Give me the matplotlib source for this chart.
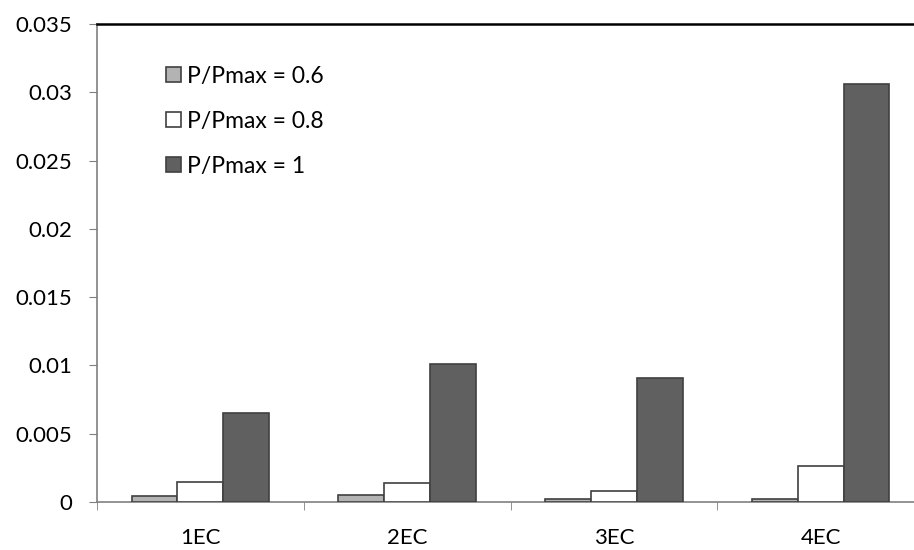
import numpy as np
import matplotlib.pyplot as plt

plt.rcParams['font.family'] = ['Lato', 'DejaVu Sans']

categories = ['1EC', '2EC', '3EC', '4EC']
series_labels = ['P/Pmax = 0.6', 'P/Pmax = 0.8', 'P/Pmax = 1']
p06 = [0.00046, 0.00053, 0.00024, 0.00024]
p08 = [0.00144, 0.00139, 0.00080, 0.00264]
p10 = [0.0065, 0.0101, 0.0091, 0.0306]
colors = ['#b3b3b3', '#ffffff', '#606060']

fig = plt.figure(figsize=(9.14, 5.5), dpi=100)
# plot area runs slightly past the right edge of the picture
ax = fig.add_axes([97 / 914, 48 / 550, 827 / 914, 478 / 550])

x = np.arange(len(categories))
w = 0.222
for i, (vals, lab, col) in enumerate(zip([p06, p08, p10], series_labels, colors)):
    ax.bar(x + (i - 1) * w, vals, w, color=col, edgecolor='#404040',
           linewidth=1.2, label=lab, zorder=3)

ax.set_xlim(-0.5, 3.5)
ax.set_ylim(0, 0.035)
ax.set_yticks(np.arange(0, 0.0351, 0.005))
ax.set_yticklabels(['0', '0.005', '0.01', '0.015', '0.02', '0.025', '0.03', '0.035'])
ax.set_xticks(x)
ax.set_xticklabels(categories)
ax.set_xticks(np.arange(-0.5, 4, 1), minor=True)
ax.tick_params(axis='x', which='major', length=0, pad=19, labelsize=16)
ax.tick_params(axis='x', which='minor', length=6, color='#808080')
ax.tick_params(axis='y', length=6, color='#808080', labelsize=16, pad=12)

for s in ['left', 'bottom']:
    ax.spines[s].set_color('#808080')
    ax.spines[s].set_linewidth(1.2)
ax.spines['right'].set_visible(False)
ax.spines['top'].set_color('black')
ax.spines['top'].set_linewidth(1.8)

ax.legend(loc='upper left', bbox_to_anchor=(0.072, 0.932), frameon=False,
          fontsize=16.5, handlelength=0.65, handleheight=0.65, handletextpad=0.3,
          labelspacing=1.05, borderaxespad=0)

fig.savefig('out.png', dpi=100)
